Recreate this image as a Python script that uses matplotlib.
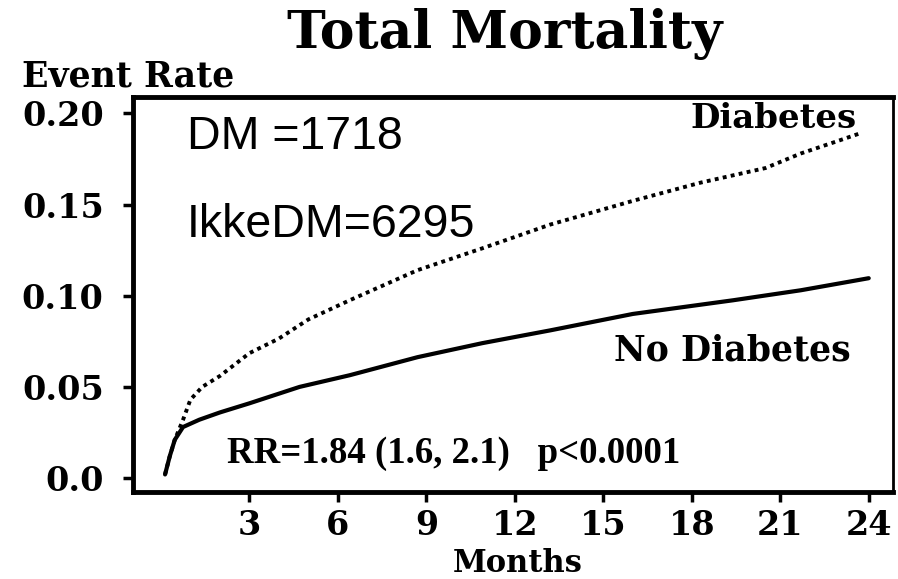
import matplotlib
matplotlib.use("Agg")
import matplotlib.pyplot as plt

# Kaplan-Meier style event rates
months_dm = [0.14, 0.3, 0.47, 0.75, 1.0, 1.4, 2.0, 3.0, 4.0, 5.0, 6.4, 8.7,
             10.9, 13.2, 16.0, 18.3, 20.5, 21.7, 22.8, 23.7]
rate_dm = [0.002, 0.012, 0.021, 0.032, 0.043, 0.050, 0.056, 0.0685, 0.0765,
           0.087, 0.0975, 0.114, 0.126, 0.139, 0.152, 0.162, 0.170, 0.178,
           0.184, 0.189]

months_no = [0.14, 0.3, 0.47, 0.75, 1.3, 2.0, 3.0, 4.7, 6.4, 8.7, 10.9, 13.2,
             16.0, 19.4, 21.7, 24.0]
rate_no = [0.002, 0.012, 0.021, 0.028, 0.032, 0.036, 0.041, 0.050, 0.0564,
           0.0663, 0.074, 0.081, 0.090, 0.0975, 0.103, 0.1096]

x_ticks = [3, 6, 9, 12, 15, 18, 21, 24]
y_ticks = [0.0, 0.05, 0.10, 0.15, 0.20]
y_tick_labels = ["0.0", "0.05", "0.10", "0.15", "0.20"]

serif = "DejaVu Serif"
times = "Liberation Serif"
sans = "Liberation Sans"

fig = plt.figure(figsize=(8.98, 5.79), dpi=100)
ax = fig.add_axes([0.148, 0.150, 0.846, 0.682])

ax.plot(months_no, rate_no, color="black", linewidth=3.0,
        solid_capstyle="round")
ax.plot(months_dm, rate_dm, color="black", linewidth=2.8,
        linestyle=(0, (1, 1.1)))

ax.set_xlim(-0.95, 24.81)
ax.set_ylim(-0.0077, 0.2088)

ax.set_xticks(x_ticks)
ax.set_xticklabels([str(t) for t in x_ticks], fontfamily=serif,
                   fontweight="bold", fontsize=24)
ax.set_yticks(y_ticks)
ax.set_yticklabels(y_tick_labels, fontfamily=serif, fontweight="bold",
                   fontsize=24)
ax.tick_params(axis="both", direction="out", length=7, width=2.5,
               color="black")
ax.tick_params(axis="x", pad=5)
ax.tick_params(axis="y", pad=14)

for side in ["left", "bottom", "top"]:
    ax.spines[side].set_linewidth(3.5)
ax.spines["right"].set_linewidth(2.0)

# title and axis labels placed like the scan
fig.text(0.562, 0.917, "Total Mortality", ha="center", va="baseline",
         fontfamily=serif, fontweight="bold", fontsize=37.5)
fig.text(0.0245, 0.85, "Event Rate", ha="left", va="baseline",
         fontfamily=serif, fontweight="bold", fontsize=25)
fig.text(0.577, 0.012, "Months", ha="center", va="baseline",
         fontfamily=serif, fontweight="bold", fontsize=22)

# annotations inside the plot
ax.text(0.88, 0.187, "DM =1718", ha="left", va="center",
        fontfamily=sans, fontsize=33.5)
ax.text(0.88, 0.139, "IkkeDM=6295", ha="left", va="center",
        fontfamily=sans, fontsize=33.5)
ax.text(23.6, 0.197, "Diabetes", ha="right", va="center",
        fontfamily=serif, fontweight="bold", fontsize=24.5)
ax.text(23.4, 0.070, "No Diabetes", ha="right", va="center",
        fontfamily=serif, fontweight="bold", fontsize=25)
ax.text(2.24, 0.0137, "RR=1.84 (1.6, 2.1)   p<0.0001", ha="left",
        va="center", fontfamily=times, fontweight="bold", fontsize=26.5)

fig.savefig("out.png", dpi=100)
